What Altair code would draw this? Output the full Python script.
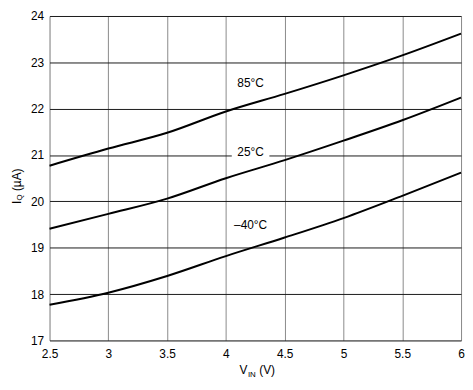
import altair as alt
import pandas as pd

vin = [2.5, 3.0, 3.5, 4.0, 4.5, 5.0, 5.5, 6.0]
iq_85 = [20.77, 21.14, 21.48, 21.94, 22.32, 22.72, 23.15, 23.62]
iq_25 = [19.41, 19.73, 20.06, 20.50, 20.89, 21.31, 21.75, 22.24]
iq_m40 = [17.77, 18.03, 18.39, 18.82, 19.22, 19.64, 20.12, 20.62]

x_ticks = [2.5, 3, 3.5, 4, 4.5, 5, 5.5, 6]
y_ticks = [17, 18, 19, 20, 21, 22, 23, 24]

label_text = ["85°C", "25°C", "–40°C"]
label_x = [4.21, 4.21, 4.21]
label_y = [22.55, 21.07, 19.49]

FONT = "Liberation Sans"

rows = []
for name, vals in [("85", iq_85), ("25", iq_25), ("-40", iq_m40)]:
    for v, i in zip(vin, vals):
        rows.append({"vin": v, "iq": i, "temp": name})
df = pd.DataFrame(rows)

lab = pd.DataFrame({"t": label_text, "x": label_x, "y": label_y})
lab["x1"] = lab["x"] - 0.16
lab["x2"] = lab["x"] + 0.16
lab["y1"] = lab["y"] - 0.15
lab["y2"] = lab["y"] + 0.15

xs = alt.Scale(domain=[2.5, 6], nice=False, zero=False)
ys = alt.Scale(domain=[17, 24], nice=False, zero=False)

xax = alt.Axis(values=x_ticks, format="~g", title=None, grid=True, gridColor="#8a8a8a",
               gridWidth=1, ticks=False, domain=False, labelFont=FONT, labelFontSize=12,
               labelColor="#000", labelPadding=8, labelFlush=False, labelOverlap=False)
yax = alt.Axis(values=y_ticks, format="~g", title=None, grid=True, gridColor="#1a1a1a",
               gridWidth=1, ticks=False, domain=False, labelFont=FONT, labelFontSize=12,
               labelColor="#000", labelPadding=6, labelFlush=False, labelOverlap=False)

lines = alt.Chart(df).mark_line(color="black", strokeWidth=2, interpolate="monotone").encode(
    x=alt.X("vin:Q", scale=xs, axis=xax),
    y=alt.Y("iq:Q", scale=ys, axis=yax),
    detail="temp:N",
)

boxes = alt.Chart(lab).mark_rect(color="white").encode(
    x=alt.X("x1:Q", scale=xs), x2="x2:Q",
    y=alt.Y("y1:Q", scale=ys), y2="y2:Q",
)

texts = alt.Chart(lab).mark_text(font=FONT, fontSize=12, color="black").encode(
    x=alt.X("x:Q", scale=xs), y=alt.Y("y:Q", scale=ys), text="t:N"
)

def txt(s, x, y, size=12, angle=0, align="left", baseline="alphabetic"):
    return alt.Chart(pd.DataFrame({"t": [s]})).mark_text(
        font=FONT, fontSize=size, color="black", align=align, baseline=baseline, angle=angle
    ).encode(x=alt.value(x), y=alt.value(y), text="t:N")

# x title: V_IN (V)
xt = [
    txt("V", 192, 362),
    txt("IN", 200.5, 365, size=8),
    txt("(V)", 212, 362),
]
# y title: I_Q (µA)
yt = [
    txt("I", -33, 190, angle=270, baseline="middle"),
    txt("Q", -30, 186.5, size=8, angle=270, baseline="middle"),
    txt("(µA)", -33, 177, angle=270, baseline="middle"),
]

chart = alt.layer(lines, boxes, texts, *xt, *yt).properties(
    width=416, height=328,
    autosize=alt.AutoSizeParams(type="none"),
    padding={"left": 42, "top": 6, "right": 4, "bottom": 46},
).configure_view(stroke="black", strokeWidth=2).configure(background="white")

chart.save("out.html", embed_options={"renderer": "svg", "actions": False})
